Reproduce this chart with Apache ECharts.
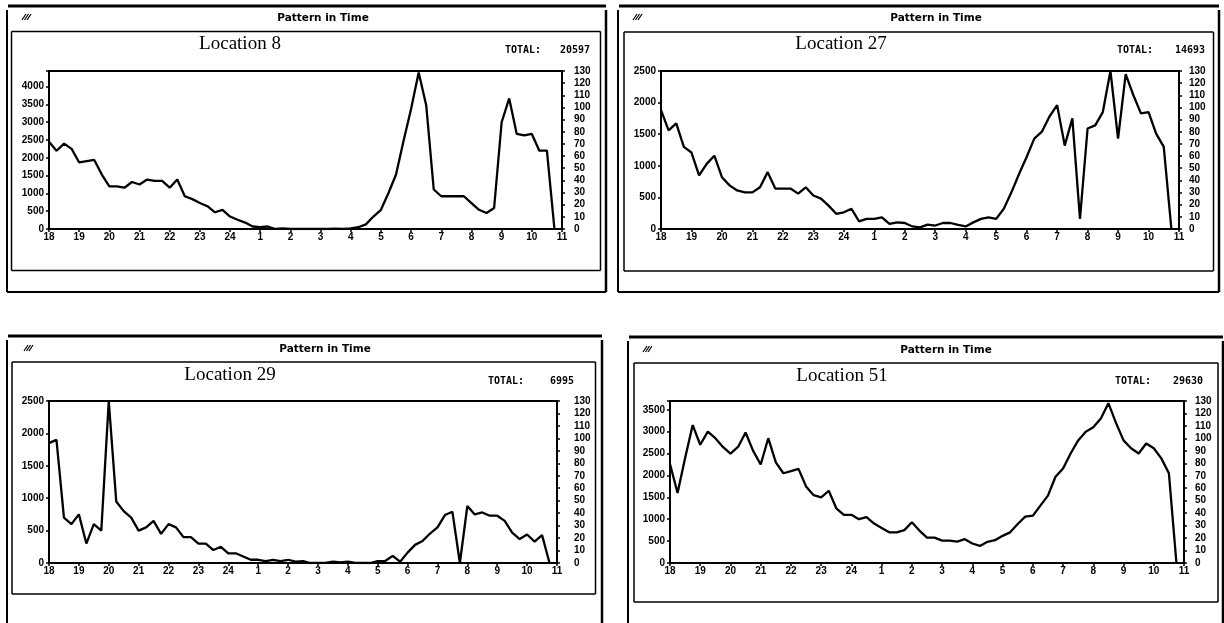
<!DOCTYPE html>
<html><head><meta charset="utf-8">
<script src="https://cdn.jsdelivr.net/npm/echarts@6/dist/echarts.min.js"></script>
<style>html,body{margin:0;padding:0;background:#fff}#c{width:1224px;height:623px}</style>
</head><body><div id="c"></div>
<script>
// ---- data ----
const hourLabels = ['18','19','20','21','22','23','24','1','2','3','4','5','6','7','8','9','10','11'];
const stepsPerHour = 4; // readings every 15 minutes from 18:00
const loc8 = [2450,2200,2400,2250,1870,1910,1940,1530,1200,1200,1160,1320,1250,1390,1350,1350,
  1160,1390,920,840,730,640,470,540,350,260,180,70,50,70,0,20,0,0,0,0,0,0,10,0,20,50,130,350,540,
  1010,1530,2480,3380,4400,3480,1110,920,920,920,920,730,540,450,590,3000,3670,2670,2630,2670,2200,2200,0];
const loc27 = [1880,1560,1670,1300,1210,850,1030,1160,820,690,610,580,580,660,900,640,640,640,560,660,
  530,480,370,240,265,320,120,160,160,185,80,105,95,40,25,70,55,95,95,65,40,105,160,185,160,320,580,
  870,1140,1430,1540,1780,1960,1320,1750,160,1590,1640,1850,2500,1430,2450,2120,1830,1850,1510,1300,0];
const loc29 = [1850,1900,700,600,750,300,600,500,2500,950,800,700,500,550,650,450,600,550,400,400,
  300,300,200,250,150,150,100,50,50,30,50,30,50,20,30,0,0,0,20,10,20,0,0,0,30,30,110,20,160,280,340,
  455,550,740,790,0,880,750,780,730,730,650,470,370,440,330,430,0];
const loc51 = [2260,1600,2400,3150,2700,3000,2850,2650,2500,2650,2980,2560,2250,2850,2300,2050,2100,
  2150,1750,1550,1500,1650,1250,1100,1100,1000,1050,900,800,700,700,750,930,740,580,580,510,510,490,
  545,445,390,485,520,620,700,890,1060,1080,1310,1540,1970,2160,2500,2800,3000,3100,3300,3650,3200,
  2800,2620,2500,2730,2620,2390,2050,0];
const locNames = ['Location 8','Location 27','Location 29','Location 51'];
const totals = ['20597','14693','6995','29630'];
const leftMax = [4440, 2500, 2500, 3700];
const leftStep = 500;
const rightMax = 130, rightStep = 10;
const windowTitle = 'Pattern in Time';
const totalLabel = 'TOTAL:';

// ---- layout ----
const seriesValues = [loc8, loc27, loc29, loc51];
const L = [
 {grid:{left:49,top:71,width:513,height:158}, rMargin:12,
  f:{ox1:7,oy1:6,ox2:606,oy2:292,ix1:11.5,ix2:600.5,sep:31.5,iy2:270.5},
  tX:323,tY:18, lX:240,lY:44, totX:505,totVX:590,totY:50, icX:25,icY:17},
 {grid:{left:661,top:71,width:518,height:158}, rMargin:10,
  f:{ox1:618,oy1:6,ox2:1219,oy2:292,ix1:624,ix2:1213.5,sep:32,iy2:271},
  tX:936,tY:18, lX:841,lY:44, totX:1117,totVX:1205,totY:50, icX:636,icY:17},
 {grid:{left:49,top:401,width:508,height:162}, rMargin:17,
  f:{ox1:7,oy1:336,ox2:602,oy2:640,ix1:12,ix2:595.5,sep:362,iy2:594},
  tX:325,tY:349, lX:230,lY:375, totX:488,totVX:574,totY:381, icX:27,icY:348},
 {grid:{left:670,top:401,width:514,height:162}, rMargin:11,
  f:{ox1:628,oy1:337,ox2:1223,oy2:640,ix1:634,ix2:1218,sep:363,iy2:602},
  tX:946,tY:350, lX:842,lY:376, totX:1115,totVX:1203,totY:381, icX:646,icY:349}
];

const BLACK = '#000';
const tickFont = {color:BLACK, fontFamily:'Liberation Sans', fontWeight:'bold', fontSize:10};
const grids=[], xAxes=[], yAxes=[], series=[], graphics=[];

L.forEach((p,i)=>{
  grids.push(Object.assign({show:true, borderColor:BLACK, borderWidth:2, backgroundColor:'#fff'}, p.grid));
  xAxes.push({type:'value', gridIndex:i, min:0, max:hourLabels.length-1, interval:1,
    axisLine:{show:true, lineStyle:{color:BLACK,width:2}},
    axisTick:{show:true, length:3, lineStyle:{color:BLACK,width:1.5}},
    splitLine:{show:false},
    axisLabel:Object.assign({margin:3, formatter:v=>hourLabels[Math.round(v)]}, tickFont)});
  yAxes.push({type:'value', gridIndex:i, position:'left', min:0, max:leftMax[i], interval:leftStep,
    axisLine:{show:true, lineStyle:{color:BLACK,width:2}},
    axisTick:{show:true, length:3, lineStyle:{color:BLACK,width:1.5}},
    splitLine:{show:false},
    axisLabel:Object.assign({margin:5, formatter:v=>(v % leftStep === 0 ? String(v) : '')}, tickFont)});
  yAxes.push({type:'value', gridIndex:i, position:'right', min:0, max:rightMax, interval:rightStep,
    axisLine:{show:true, lineStyle:{color:BLACK,width:2}},
    axisTick:{show:true, length:3, lineStyle:{color:BLACK,width:1.5}},
    splitLine:{show:false},
    axisLabel:Object.assign({margin:p.rMargin, align:'left', formatter:v=>String(v)}, tickFont)});
  series.push({type:'line', xAxisIndex:i, yAxisIndex:2*i, showSymbol:false, symbol:'none',
    lineStyle:{color:BLACK,width:2.3}, z:5,
    data: seriesValues[i].map((v,k)=>[k/stepsPerHour, v])});

  const f=p.f;
  const ln=(x1,y1,x2,y2,w)=>graphics.push({type:'line', silent:true, z:-1,
     shape:{x1,y1,x2,y2}, style:{stroke:BLACK, lineWidth:w}});
  // outer window
  ln(f.ox1+1, f.oy1, f.ox2, f.oy1, 3);
  ln(f.ox1, f.oy1+4, f.ox1, f.oy2, 2);
  ln(f.ox2, f.oy1+4, f.ox2, f.oy2, 2.5);
  ln(f.ox1, f.oy2, f.ox2, f.oy2, 2);
  // title separator and inner content frame
  ln(f.ix1, f.sep, f.ix2, f.sep, 1.5);
  ln(f.ix1, f.sep, f.ix1, f.iy2, 1.5);
  ln(f.ix2, f.sep, f.ix2, f.iy2, 1.5);
  ln(f.ix1, f.iy2, f.ix2, f.iy2, 1.5);
  // icon
  for(let k=0;k<3;k++) ln(p.icX-3+k*2.5, p.icY+3, p.icX+1+k*2.5, p.icY-3, 1.2);
  const tx=(text,x,y,font,align)=>graphics.push({type:'text', silent:true, z:10,
     style:{text, x, y, font, fill:BLACK, textAlign:align||'center', textVerticalAlign:'middle'}});
  tx(windowTitle, p.tX, p.tY, 'bold 10.5px "DejaVu Sans"');
  tx(locNames[i], p.lX, p.lY, '19px "Liberation Serif"');
  tx(totalLabel, p.totX, p.totY, 'bold 10px "DejaVu Sans Mono"', 'left');
  tx(totals[i], p.totVX, p.totY, 'bold 10px "DejaVu Sans Mono"', 'right');
});

const chart = echarts.init(document.getElementById('c'), null, {renderer:'canvas'});
chart.setOption({animation:false, backgroundColor:'#fff',
  grid:grids, xAxis:xAxes, yAxis:yAxes, series, graphic:{elements:graphics}});
</script></body></html>
